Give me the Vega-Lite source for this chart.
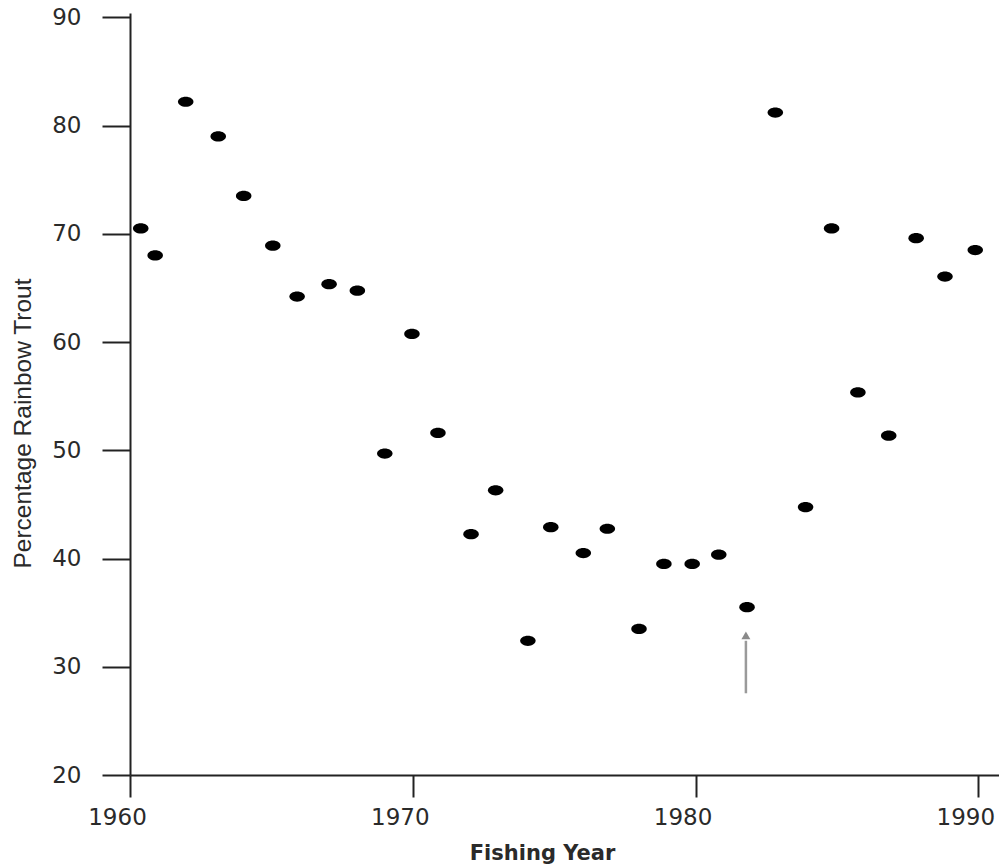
{
  "$schema": "https://vega.github.io/schema/vega-lite/v6.json",
  "autosize": "none",
  "width": 869,
  "height": 762,
  "padding": {"left": 130, "top": 13, "right": 0, "bottom": 91},
  "background": "white",
  "config": {"view": {"stroke": null}},
  "datasets": {
    "trout": [
      {"year": 1960.38, "pct": 70.5},
      {"year": 1960.89, "pct": 68.0},
      {"year": 1961.97, "pct": 82.2},
      {"year": 1963.12, "pct": 79.0},
      {"year": 1964.02, "pct": 73.5},
      {"year": 1965.05, "pct": 68.9},
      {"year": 1965.91, "pct": 64.2},
      {"year": 1967.04, "pct": 65.35},
      {"year": 1968.04, "pct": 64.75},
      {"year": 1969.01, "pct": 49.7},
      {"year": 1969.97, "pct": 60.75},
      {"year": 1970.89, "pct": 51.6},
      {"year": 1972.06, "pct": 42.25},
      {"year": 1972.93, "pct": 46.3},
      {"year": 1974.07, "pct": 32.4},
      {"year": 1974.88, "pct": 42.9},
      {"year": 1976.03, "pct": 40.5},
      {"year": 1976.88, "pct": 42.75},
      {"year": 1978.0, "pct": 33.5},
      {"year": 1978.88, "pct": 39.5},
      {"year": 1979.88, "pct": 39.5},
      {"year": 1980.82, "pct": 40.35},
      {"year": 1981.82, "pct": 35.5},
      {"year": 1982.82, "pct": 81.2},
      {"year": 1983.89, "pct": 44.75},
      {"year": 1984.81, "pct": 70.5},
      {"year": 1985.74, "pct": 55.35},
      {"year": 1986.83, "pct": 51.35},
      {"year": 1987.8, "pct": 69.6},
      {"year": 1988.82, "pct": 66.05},
      {"year": 1989.89, "pct": 68.5}
    ],
    "arrow": [
      {"year": 1981.78, "pct": 27.55, "pct2": 32.4, "tip": 32.9}
    ]
  },
  "layer": [
    {
      "data": {"name": "trout"},
      "mark": {
        "type": "point",
        "filled": true,
        "color": "#000000",
        "opacity": 1,
        "shape": "M-1,0A1,0.66,0,1,0,1,0A1,0.66,0,1,0,-1,0Z",
        "size": 240
      },
      "encoding": {
        "x": {
          "field": "year",
          "type": "quantitative",
          "title": "Fishing Year",
          "scale": {"domain": [1960, 1990.73], "nice": false, "zero": false},
          "axis": {
            "values": [1960, 1970, 1980, 1990],
            "format": "d",
            "title": "Fishing Year",
            "grid": false,
            "domainColor": "#222222",
            "domainWidth": 2,
            "tickColor": "#222222",
            "tickWidth": 2,
            "tickSize": 22,
            "labelFont": "DejaVu Sans",
            "labelFontSize": 23,
            "labelColor": "#2a2a2a",
            "labelPadding": 9,
            "labelOffset": -13,
            "labelFlush": false,
            "labelOverlap": false,
            "titleFont": "DejaVu Sans",
            "titleFontWeight": "bold",
            "titleFontSize": 21,
            "titleColor": "#2a2a2a",
            "titleX": 412,
            "titleY": 84,
            "titleBaseline": "alphabetic",
            "titleAlign": "center"
          }
        },
        "y": {
          "field": "pct",
          "type": "quantitative",
          "title": "Percentage Rainbow Trout",
          "scale": {"domain": [20, 90.4], "nice": false, "zero": false},
          "axis": {
            "values": [20, 30, 40, 50, 60, 70, 80, 90],
            "title": "Percentage Rainbow Trout",
            "grid": false,
            "domainColor": "#222222",
            "domainWidth": 2,
            "tickColor": "#222222",
            "tickWidth": 2,
            "tickSize": 28,
            "labelFont": "DejaVu Sans",
            "labelFontSize": 23,
            "labelColor": "#2a2a2a",
            "labelPadding": 21,
            "labelFlush": false,
            "labelOverlap": false,
            "titleFont": "Liberation Sans",
            "titleFontWeight": "normal",
            "titleFontSize": 24.5,
            "titleColor": "#2a2a2a",
            "titleX": -107,
            "titleY": 410,
            "titleBaseline": "middle",
            "titleAlign": "center",
            "titleAngle": 270
          }
        }
      }
    },
    {
      "data": {"name": "arrow"},
      "mark": {"type": "rule", "color": "#9a9a9a", "strokeWidth": 2.5},
      "encoding": {
        "x": {"field": "year", "type": "quantitative", "title": "Fishing Year"},
        "y": {"field": "pct", "type": "quantitative", "title": "Percentage Rainbow Trout"},
        "y2": {"field": "pct2"}
      }
    },
    {
      "data": {"name": "arrow"},
      "mark": {"type": "point", "shape": "triangle-up", "filled": true, "color": "#8a8a8a", "opacity": 1, "size": 80},
      "encoding": {
        "x": {"field": "year", "type": "quantitative", "title": "Fishing Year"},
        "y": {"field": "tip", "type": "quantitative", "title": "Percentage Rainbow Trout"}
      }
    }
  ]
}
